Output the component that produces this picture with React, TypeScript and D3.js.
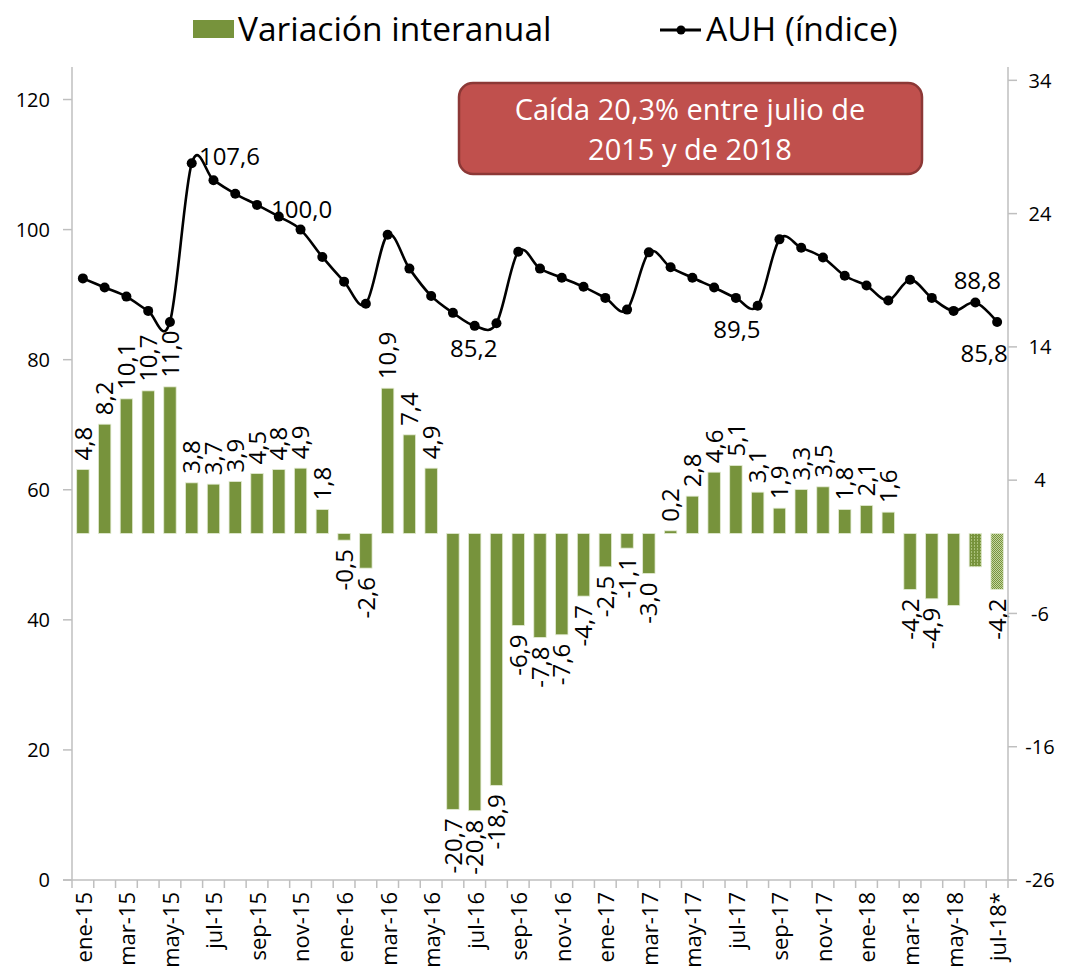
import React from "react";
import * as d3 from "d3";

const categories = [
  "ene-15","feb-15","mar-15","abr-15","may-15","jun-15","jul-15","ago-15","sep-15","oct-15","nov-15","dic-15",
  "ene-16","feb-16","mar-16","abr-16","may-16","jun-16","jul-16","ago-16","sep-16","oct-16","nov-16","dic-16",
  "ene-17","feb-17","mar-17","abr-17","may-17","jun-17","jul-17","ago-17","sep-17","oct-17","nov-17","dic-17",
  "ene-18","feb-18","mar-18","abr-18","may-18","jun-18","jul-18*",
];

const variacion = [
  4.8, 8.2, 10.1, 10.7, 11.0, 3.8, 3.7, 3.9, 4.5, 4.8, 4.9, 1.8,
  -0.5, -2.6, 10.9, 7.4, 4.9, -20.7, -20.8, -18.9, -6.9, -7.8, -7.6, -4.7,
  -2.5, -1.1, -3.0, 0.2, 2.8, 4.6, 5.1, 3.1, 1.9, 3.3, 3.5, 1.8,
  2.1, 1.6, -4.2, -4.9, -5.4, -2.5, -4.2,
];

const auh = [
  92.5, 91.1, 89.7, 87.5, 85.8, 110.2, 107.6, 105.5, 103.8, 102.0, 100.0, 95.8,
  92.0, 88.6, 99.2, 94.0, 89.8, 87.2, 85.2, 85.6, 96.6, 94.0, 92.6, 91.2,
  89.5, 87.7, 96.5, 94.2, 92.6, 91.1, 89.5, 88.3, 98.5, 97.2, 95.7, 92.9,
  91.4, 89.1, 92.3, 89.5, 87.5, 88.8, 85.8,
];

const leftTicks = [0, 20, 40, 60, 80, 100, 120];
const rightTicks = [-26, -16, -6, 4, 14, 24, 34];
const hiddenBarLabels = [40, 41];
const projectedBars = [41, 42];
const lineLabelIdx = [6, 10, 18, 30, 41, 42];
const lineLabelOffsets = [[16, -15], [1, -12], [-1, 31], [1, 40], [2, -13], [-13, 40]];
const annotationLines = ["Caída 20,3% entre julio de", "2015 y de 2018"];
const legendBars = "Variación interanual";
const legendLine = "AUH (índice)";

const W = 1068, H = 980;
const L = 72, R = 1008, T = 67, B = 880;
const FONT = "'Open Sans', 'Noto Sans', sans-serif";
const GREEN = "#77933C";
const AXIS = "#BFBFBF";

const fmt = (v: number) => d3.format(".1f")(v).replace(".", ",").replace("\u2212", "-");

export default function App() {
  const x = d3.scaleBand<number>()
    .domain(d3.range(categories.length))
    .range([L, R])
    .paddingInner(0.43)
    .paddingOuter(0.215);
  const bw = x.bandwidth();
  const step = x.step();
  const cx = (i: number) => (x(i) as number) + bw / 2;
  const yL = d3.scaleLinear().domain([0, 125]).range([B, T]);
  const yR = d3.scaleLinear().domain([-26, 35]).range([B, T]);

  const line = d3.line<number>()
    .x((_, i) => cx(i))
    .y((d) => yL(d))
    .curve(d3.curveCatmullRom.alpha(0));

  return (
    <svg width={W} height={H} style={{ position: "absolute", left: 0, top: 0, display: "block", background: "#fff" }} fontFamily={FONT}>
      <defs>
        <pattern id="p1" width="3" height="3" patternUnits="userSpaceOnUse">
          <rect width="3" height="3" fill="#a9c07a" />
          <rect x="0" y="0" width="2" height="3" fill={GREEN} />
          <rect x="2" y="1" width="1" height="1" fill={GREEN} />
        </pattern>
        <pattern id="p2" width="2" height="2" patternUnits="userSpaceOnUse">
          <rect width="2" height="2" fill="#c4d6a0" />
          <rect x="0" y="0" width="1" height="1" fill={GREEN} />
          <rect x="1" y="1" width="1" height="1" fill={GREEN} />
        </pattern>
      </defs>

      {/* Legend */}
      <rect x={193} y={20} width={41} height={18} fill={GREEN} />
      <text x={238} y={41} fontSize={33.5} fill="#000">{legendBars}</text>
      <line x1={660} x2={701} y1={30} y2={30} stroke="#000" strokeWidth={3} />
      <circle cx={681} cy={30} r={4.5} fill="#000" />
      <text x={706} y={41} fontSize={33.5} fill="#000">{legendLine}</text>

      {/* Bars */}
      {variacion.map((v, i) => {
        const y0 = yR(Math.max(0, v));
        const y1 = yR(Math.min(0, v));
        const pi = projectedBars.indexOf(i);
        const fill = pi === 0 ? "url(#p1)" : pi === 1 ? "url(#p2)" : GREEN;
        return (
          <rect key={"b" + i} x={x(i)} y={y0} width={bw} height={Math.max(0.8, y1 - y0)}
            fill={fill} stroke="#e3ebd3" strokeWidth={0.8} />
        );
      })}

      {/* Bar labels */}
      {variacion.map((v, i) => {
        if (hiddenBarLabels.includes(i)) return null;
        const pos = v >= 0;
        const yy = pos ? yR(v) - 9 : yR(v) + 9;
        return (
          <text key={"bl" + i} transform={`translate(${cx(i)},${yy}) rotate(-90)`}
            textAnchor={pos ? "start" : "end"} dy="0.36em" fontSize={24} fill="#000">
            {fmt(v)}
          </text>
        );
      })}

      {/* Axes */}
      <line x1={L} x2={L} y1={T} y2={B} stroke={AXIS} strokeWidth={1.5} />
      <line x1={R} x2={R} y1={T} y2={B} stroke={AXIS} strokeWidth={1.5} />
      <line x1={L - 9} x2={R + 9} y1={B} y2={B} stroke={AXIS} strokeWidth={1.5} />
      {leftTicks.map((t) => (
        <g key={"lt" + t}>
          <line x1={L - 9} x2={L} y1={yL(t)} y2={yL(t)} stroke={AXIS} strokeWidth={1.5} />
          <text x={50} y={yL(t)} dy="0.36em" textAnchor="end" fontSize={20} fill="#000">{t}</text>
        </g>
      ))}
      {rightTicks.map((t) => (
        <g key={"rt" + t}>
          <line x1={R} x2={R + 9} y1={yR(t)} y2={yR(t)} stroke={AXIS} strokeWidth={1.5} />
          <text x={1040} y={yR(t)} dy="0.36em" textAnchor="middle" fontSize={20} fill="#000">{String(t)}</text>
        </g>
      ))}
      {d3.range(categories.length + 1).map((i) => (
        <line key={"xt" + i} x1={L + i * step} x2={L + i * step} y1={B} y2={B + 8} stroke={AXIS} strokeWidth={1.5} />
      ))}
      {categories.map((c, i) => (i % 2 === 0 ? (
        <text key={"xl" + i} transform={`translate(${cx(i) + 1},${B + 12}) rotate(-90)`}
          textAnchor="end" dy="0.36em" fontSize={22} fill="#000">{c}</text>
      ) : null))}

      {/* Line */}
      <path d={line(auh) || ""} fill="none" stroke="#000" strokeWidth={2.6} />
      {auh.map((v, i) => (
        <circle key={"m" + i} cx={cx(i)} cy={yL(v)} r={5} fill="#000" />
      ))}
      {lineLabelIdx.map((i, k) => (
        <text key={"ll" + i} x={cx(i) + lineLabelOffsets[k][0]} y={yL(auh[i]) + lineLabelOffsets[k][1]}
          textAnchor="middle" fontSize={24} fill="#000">{fmt(auh[i])}</text>
      ))}

      {/* Annotation */}
      <rect x={459} y={83} width={463} height={91} rx={14} ry={14} fill="#C0504D" stroke="#8C3836" strokeWidth={2.5} />
      {annotationLines.map((s, k) => (
        <text key={"an" + k} x={690} y={120 + k * 40} textAnchor="middle" fontSize={29} fill="#fff">{s}</text>
      ))}
    </svg>
  );
}
